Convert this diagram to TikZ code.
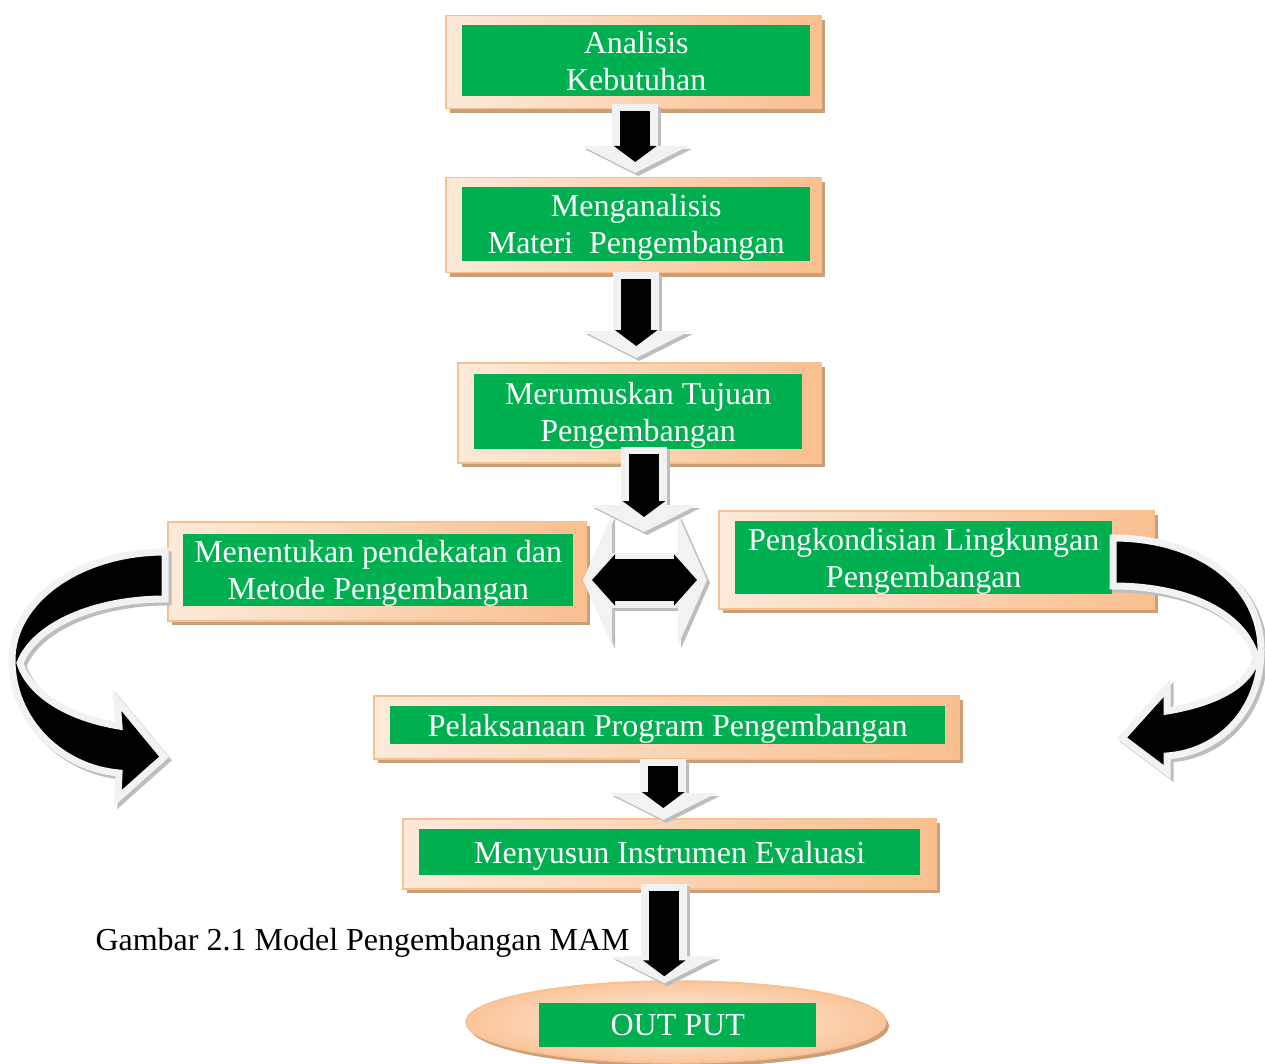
\documentclass[tikz,border=0pt]{standalone}
\usepackage{fontspec}
\setmainfont{Liberation Serif}
\usetikzlibrary{arrows.meta,shadows,shapes.geometric,calc}
\definecolor{boxgreen}{HTML}{00B050}
\definecolor{peach}{HTML}{F9BF8F}
\definecolor{peachlight}{HTML}{FDEADA}
\definecolor{frameshadow}{HTML}{C9A07A}
\definecolor{rim}{HTML}{F2F2F2}
\definecolor{rimshadow}{HTML}{BDBDBD}
\tikzset{
  outerbox/.style={draw=peach, line width=1.5pt, left color=peachlight, right color=peach,
    anchor=north west, inner sep=0pt,
    drop shadow={shadow xshift=4pt, shadow yshift=-4pt, fill=frameshadow, opacity=1}},
  greenbox/.style={fill=boxgreen, text=white, anchor=north west, inner sep=0pt, align=center,
    text depth=0pt, font=\fontsize{32}{37}\selectfont},
  blockout/.style={draw=rim, line width=46pt, -{Triangle[width=106pt,length=27pt]}},
  blockshade/.style={blockout, draw=rimshadow, transform canvas={xshift=3pt,yshift=-3pt}},
  blockin/.style={draw=black, line width=30pt, -{Triangle[width=42pt,length=16pt]}},
  dblout/.style={draw=rim, line width=55pt,
    {Triangle[width=130pt,length=29pt]}-{Triangle[width=130pt,length=29pt]}},
  dblshade/.style={dblout, draw=rimshadow, transform canvas={xshift=3pt,yshift=-3pt}},
  dblin/.style={draw=black, line width=42pt,
    {Triangle[width=50pt,length=23pt]}-{Triangle[width=50pt,length=23pt]}},
  bendarrow/.style={fill=black, draw=rim, line width=7pt, line join=miter},
  bendshadow/.style={fill=rimshadow, draw=rimshadow, line width=7pt, shift={(3,3)}}
}
\begin{document}
\begin{tikzpicture}[x=1pt,y=-1pt]
  \useasboundingbox (0,0) rectangle (1265,1064);
  % boxes
  \node[outerbox, minimum width=375, minimum height=93] (ak) at (445,15) {};
  \node[greenbox, minimum width=348, minimum height=71] (ak-t) at (462,25) {Analisis\\Kebutuhan};
  \node[outerbox, minimum width=375, minimum height=95] (mm) at (445,177) {};
  \node[greenbox, minimum width=348, minimum height=74] (mm-t) at (462,187) {Menganalisis\\Materi\ \ Pengembangan};
  \node[outerbox, minimum width=363, minimum height=100] (mr) at (457,362) {};
  \node[greenbox, minimum width=328, minimum height=75] (mr-t) at (474,374) {Merumuskan Tujuan\\Pengembangan};
  \node[outerbox, minimum width=418, minimum height=99] (mp) at (167,521) {};
  \node[greenbox, minimum width=390, minimum height=72] (mp-t) at (183,534) {Menentukan pendekatan dan\\Metode Pengembangan};
  \node[outerbox, minimum width=435, minimum height=98] (pl) at (718,510) {};
  \node[greenbox, minimum width=377, minimum height=73] (pl-t) at (735,521) {Pengkondisian Lingkungan\\Pengembangan};
  \node[outerbox, minimum width=585, minimum height=63] (pp) at (373,695) {};
  \node[greenbox, minimum width=555, minimum height=38] (pp-t) at (390,706) {Pelaksanaan Program Pengembangan};
  \node[outerbox, minimum width=533, minimum height=70] (mi) at (402,818) {};
  \node[greenbox, minimum width=501, minimum height=46] (mi-t) at (419,829) {Menyusun Instrumen Evaluasi};
  \node[ellipse, draw=peach, line width=1.5pt, inner color=peachlight!60!white, outer color=peach!85!peachlight,
    minimum width=420, minimum height=82,
    drop shadow={shadow xshift=3pt, shadow yshift=-4pt, fill=frameshadow, opacity=1}] (out) at (676,1022) {};
  \node[greenbox, minimum width=277, minimum height=44] (out-t) at (539,1003) {OUT PUT};
  \node[anchor=base west, font=\fontsize{32}{37}\selectfont] (cap) at (92,950) {Gambar 2.1 Model Pengembangan MAM};

  % block arrows
  \draw[blockshade] ($(ak.south)+(2,-5)$) -- ($(ak.south |- mm.north)+(2,-4)$);
  \draw[blockout] ($(ak.south)+(2,-5)$) -- ($(ak.south |- mm.north)+(2,-4)$);
  \draw[blockin] ($(ak.south)+(2,2)$) -- ($(ak.south |- mm.north)+(2,-15)$);

  \draw[blockshade] ($(mm.south)+(3,-1)$) -- ($(mm.south |- mr.north)+(3,-4)$);
  \draw[blockout] ($(mm.south)+(3,-1)$) -- ($(mm.south |- mr.north)+(3,-4)$);
  \draw[blockin] ($(mm.south)+(3,6)$) -- ($(mm.south |- mr.north)+(3,-16)$);

  \coordinate (split) at (644,532);
  \coordinate (dl) at (583,580);
  \coordinate (dr) at (707,580);
  \draw[dblshade] (dl) -- (dr);
  \draw[dblout] (dl) -- (dr);
  \draw[dblin] ($(dl)+(9,0)$) -- ($(dr)+(-10,0)$);

  \draw[blockshade] ($(split |- mr.south)+(0,-17)$) -- (split);
  \draw[blockout] ($(split |- mr.south)+(0,-17)$) -- (split);
  \draw[blockin] ($(split |- mr.south)+(0,-10)$) -- ($(split)+(0,-15)$);

  \draw[blockshade] ($(pp.south)+(-3,-1)$) -- ($(pp.south |- mi.north)+(-3,2)$);
  \draw[blockout] ($(pp.south)+(-3,-1)$) -- ($(pp.south |- mi.north)+(-3,2)$);
  \draw[blockin] ($(pp.south)+(-3,6)$) -- ($(pp.south |- mi.north)+(-3,-10)$);

  \draw[blockshade] ($(mi.south)+(-5,-6)$) -- ($(mi.south |- out.north)+(-5,3)$);
  \draw[blockout] ($(mi.south)+(-5,-6)$) -- ($(mi.south |- out.north)+(-5,3)$);
  \draw[blockin] ($(mi.south)+(-5,1)$) -- ($(mi.south |- out.north)+(-5,-4)$);

  % curved arrows
  \path[bendshadow] (165,552) .. controls (80,552) and (12,600) .. (12,660)
    .. controls (12,720) and (60,768) .. (119,773) -- (118,798) -- (164,757) -- (117,700)
    -- (119,726) .. controls (70,718) and (30,695) .. (20,663)
    .. controls (35,625) and (95,599) .. (165,599) -- cycle;
  \path[bendarrow] (165,552) .. controls (80,552) and (12,600) .. (12,660)
    .. controls (12,720) and (60,768) .. (119,773) -- (118,798) -- (164,757) -- (117,700)
    -- (119,726) .. controls (70,718) and (30,695) .. (20,663)
    .. controls (35,625) and (95,599) .. (165,599) -- cycle;
  \path[bendshadow] (1113,538) .. controls (1200,538) and (1261,585) .. (1261,650)
    .. controls (1261,710) and (1220,752) .. (1167,756) -- (1167,772) -- (1122,738) -- (1167,688)
    -- (1167,711) .. controls (1215,703) and (1250,685) .. (1256,658)
    .. controls (1245,615) and (1190,586) .. (1113,586) -- cycle;
  \path[bendarrow] (1113,538) .. controls (1200,538) and (1261,585) .. (1261,650)
    .. controls (1261,710) and (1220,752) .. (1167,756) -- (1167,772) -- (1122,738) -- (1167,688)
    -- (1167,711) .. controls (1215,703) and (1250,685) .. (1256,658)
    .. controls (1245,615) and (1190,586) .. (1113,586) -- cycle;
\end{tikzpicture}
\end{document}
